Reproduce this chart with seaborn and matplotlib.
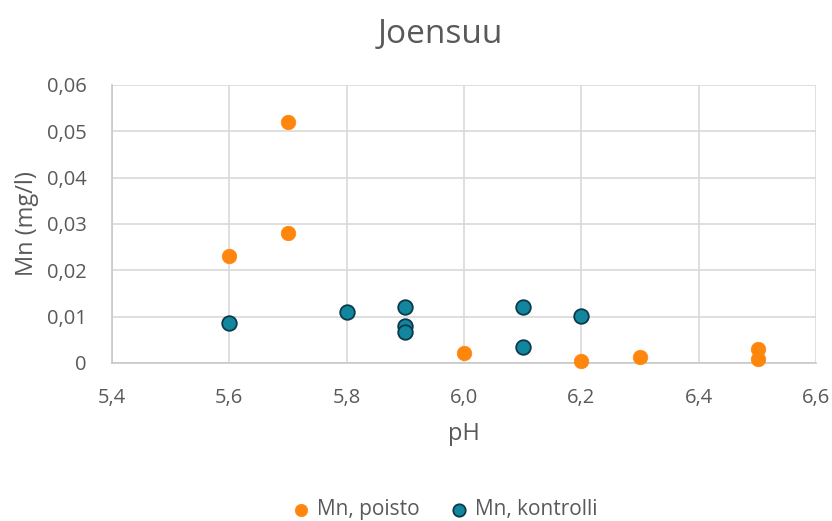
import matplotlib
matplotlib.use("Agg")
import matplotlib.pyplot as plt
import seaborn as sns
import pandas as pd
from matplotlib.ticker import FuncFormatter, MultipleLocator

# Mn concentration vs pH, Joensuu
ph_poisto = [5.6, 5.7, 5.7, 6.0, 6.2, 6.3, 6.5, 6.5]
mn_poisto = [0.023, 0.052, 0.028, 0.0021, 0.0004, 0.0012, 0.0030, 0.0009]

ph_kontrolli = [5.6, 5.8, 5.9, 5.9, 5.9, 6.1, 6.1, 6.2]
mn_kontrolli = [0.0086, 0.0111, 0.0120, 0.0079, 0.0066, 0.0120, 0.0035, 0.0101]

series_names = ["Mn, poisto", "Mn, kontrolli"]

df = pd.concat([
    pd.DataFrame({"pH": ph_poisto, "Mn": mn_poisto, "sarja": series_names[0]}),
    pd.DataFrame({"pH": ph_kontrolli, "Mn": mn_kontrolli, "sarja": series_names[1]}),
], ignore_index=True)

sns.set_style("white")
plt.rcParams["font.family"] = ["Open Sans", "DejaVu Sans"]

text_col = "#595959"
grid_col = "#D9D9D9"

fig = plt.figure(figsize=(8.32, 5.21), dpi=100)
ax = fig.add_axes([0.1346, 0.3033, 0.8464, 0.5337])

sns.scatterplot(data=df[df.sarja == series_names[0]], x="pH", y="Mn", ax=ax,
                color="#FF860D", edgecolor="#FF860D", s=110, linewidth=0.5,
                label=series_names[0], zorder=3, clip_on=False)
sns.scatterplot(data=df[df.sarja == series_names[1]], x="pH", y="Mn", ax=ax,
                color="#13869F", edgecolor="#0C3A4A", s=110, linewidth=1.3,
                label=series_names[1], zorder=3, clip_on=False)

ax.set_xlim(5.4, 6.6)
ax.set_ylim(0, 0.06)
ax.xaxis.set_major_locator(MultipleLocator(0.2))
ax.yaxis.set_major_locator(MultipleLocator(0.01))
ax.xaxis.set_major_formatter(FuncFormatter(lambda v, p: f"{v:.1f}".replace(".", ",")))
ax.yaxis.set_major_formatter(FuncFormatter(
    lambda v, p: "0" if abs(v) < 1e-9 else f"{v:.2f}".replace(".", ",")))

ax.grid(True, color=grid_col, linewidth=1.2)
ax.set_axisbelow(True)
for side in ["top", "right"]:
    ax.spines[side].set_visible(False)
for side in ["left", "bottom"]:
    ax.spines[side].set_color("#C8C8C8")
    ax.spines[side].set_linewidth(1.2)
ax.tick_params(axis="x", length=0, labelsize=14.5, labelcolor=text_col, pad=18)
ax.tick_params(axis="y", length=0, labelsize=14.5, labelcolor=text_col, pad=18)

ax.set_xlabel("pH", fontsize=17, color=text_col, labelpad=10)
ax.set_ylabel("Mn (mg/l)", fontsize=17, color=text_col, labelpad=6)
fig.text(0.529, 1 - 43 / 521, "Joensuu", fontsize=24, color=text_col,
         ha="center", va="baseline")

handles, labels = ax.get_legend_handles_labels()
ax.legend_.remove()
leg = fig.legend(handles, labels, loc="center", bbox_to_anchor=(0.535, 1 - 510 / 521),
                 ncol=2, frameon=False, fontsize=15, handlelength=0.8,
                 handletextpad=0.35, columnspacing=1.5, markerscale=0.85)
for t in leg.get_texts():
    t.set_color(text_col)

fig.savefig("out.png", dpi=100)
